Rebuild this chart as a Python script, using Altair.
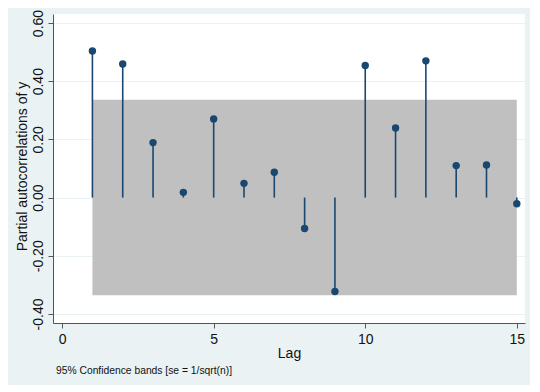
import altair as alt
import pandas as pd

lags = list(range(1, 16))
pacf = [0.504, 0.459, 0.189, 0.018, 0.270, 0.049, 0.087, -0.106, -0.323,
        0.454, 0.239, 0.470, 0.110, 0.112, -0.021]
band_lo = [-0.336]
band_hi = [0.336]
band_start = [1]
band_end = [15]
x_ticks = [0, 5, 10, 15]
y_ticks = [-0.4, -0.2, 0.0, 0.2, 0.4, 0.6]
note = "95% Confidence bands [se = 1/sqrt(n)]"

df = pd.DataFrame({"lag": lags, "pacf": pacf, "zero": [0.0] * len(lags)})
band = pd.DataFrame({"x": band_start, "x2": band_end, "lo": band_lo, "hi": band_hi})

FONT = "Liberation Sans"
NAVY = "#1A476F"

xscale = alt.Scale(domain=[-0.3, 15.27], nice=False, zero=False)
yscale = alt.Scale(domain=[-0.431, 0.631], nice=False, zero=False)

xaxis = alt.Axis(values=x_ticks, title="Lag", grid=False, format="d",
                 tickSize=5, labelPadding=4, labelFontSize=14, titleFontSize=14,
                 labelFont=FONT, titleFont=FONT, labelColor="#111", titleColor="#111",
                 domainColor="#555", tickColor="#555", titleFontWeight="normal",
                 titleBaseline="middle", titleY=30)
yaxis = alt.Axis(values=y_ticks, title="Partial autocorrelations of y", grid=True,
                 gridColor="#EAF2F3", gridWidth=1.2,
                 labelExpr="replace(format(datum.value, '.2f'), '\u2212', '-')",
                 tickSize=5, labelPadding=3, labelAngle=270, labelAlign="center",
                 labelBaseline="bottom", labelFontSize=14, titleFontSize=14,
                 labelFont=FONT, titleFont=FONT, labelColor="#111", titleColor="#111",
                 domainColor="#555", tickColor="#555", titleFontWeight="normal",
                 titleAngle=270, titleBaseline="middle", titleAlign="center",
                 titleX=-31, titleY=152)

base_band = alt.Chart(band).mark_rect(color="#C0C0C0").encode(
    x=alt.X("x:Q", scale=xscale, axis=xaxis),
    x2="x2:Q",
    y=alt.Y("lo:Q", scale=yscale, axis=yaxis),
    y2="hi:Q",
)

stems = alt.Chart(df).mark_rule(color=NAVY, strokeWidth=1.6).encode(
    x=alt.X("lag:Q", scale=xscale),
    y=alt.Y("zero:Q", scale=yscale),
    y2="pacf:Q",
)

points = alt.Chart(df).mark_point(filled=True, color=NAVY, size=55, opacity=1).encode(
    x=alt.X("lag:Q", scale=xscale),
    y=alt.Y("pacf:Q", scale=yscale),
)

note_df = pd.DataFrame({"t": [note]})
note_text = alt.Chart(note_df).mark_text(
    align="left", baseline="middle", font=FONT, fontSize=10.3, color="#111"
).encode(text="t:N", x=alt.value(3), y=alt.value(357))

chart = alt.layer(base_band, stems, points, note_text).properties(
    width=472, height=309,
    autosize=alt.AutoSizeParams(type="none"),
    padding={"left": 45, "top": 6, "right": 5, "bottom": 62},
).configure(background="#EAF2F3").configure_view(fill="white", stroke=None)

chart.save("out.html", embed_options={"renderer": "svg", "actions": False})
